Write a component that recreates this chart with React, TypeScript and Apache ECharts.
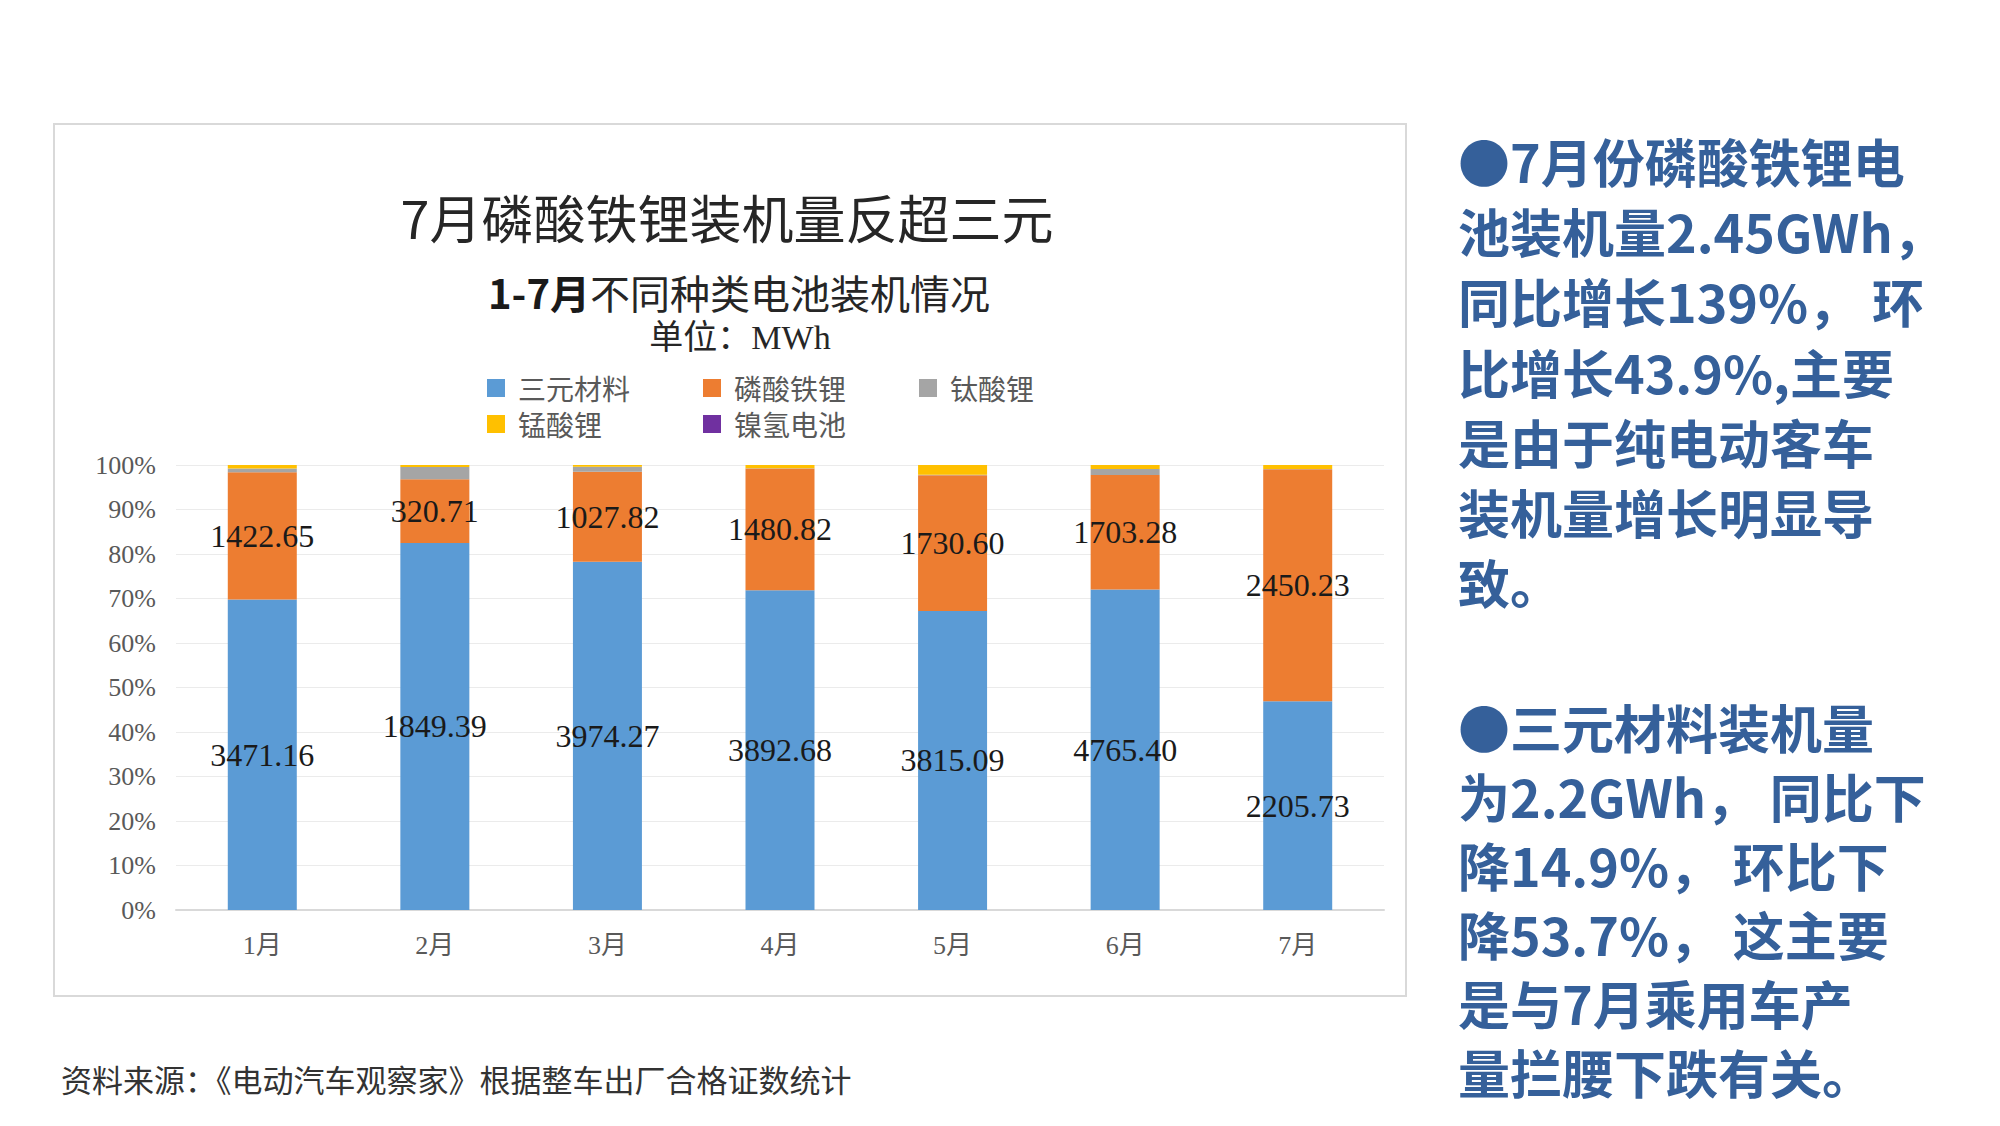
import React, { useEffect, useRef } from "react";
import * as echarts from "echarts";

const categories = ["1月", "2月", "3月", "4月", "5月", "6月", "7月"];
const ternary = [3471.16, 1849.39, 3974.27, 3892.68, 3815.09, 4765.4, 2205.73];
const lfp = [1422.65, 320.71, 1027.82, 1480.82, 1730.6, 1703.28, 2450.23];
const lto = [42, 62, 58, 2, 5, 89, 2];
const lmo = [38, 10, 20, 40, 125, 60, 42];
const nimh = [0, 0, 0, 0, 0, 0, 0];
const yTicks = [0, 10, 20, 30, 40, 50, 60, 70, 80, 90, 100];

const seriesNames = ["三元材料", "磷酸铁锂", "钛酸锂", "锰酸锂", "镍氢电池"];
const seriesColors = ["#5B9BD5", "#ED7D31", "#A5A5A5", "#FFC000", "#7030A0"];
const seriesValues = [ternary, lfp, lto, lmo, nimh];

const titleText = "7月磷酸铁锂装机量反超三元";
const subtitleBold = "1-7月";
const subtitleRest = "不同种类电池装机情况";
const unitText = "单位：MWh";
const sourceText = "资料来源：《电动汽车观察家》根据整车出厂合格证数统计";
const note1 = "●7月份磷酸铁锂电\n池装机量2.45GWh，\n同比增长139%， 环\n比增长43.9%,主要\n是由于纯电动客车\n装机量增长明显导\n致。";
const note2 = "●三元材料装机量\n为2.2GWh， 同比下\n降14.9%， 环比下\n降53.7%， 这主要\n是与7月乘用车产\n量拦腰下跌有关。";

const CJK = '"Noto Sans CJK SC", "Noto Sans", sans-serif';
const SERIF = '"Liberation Serif", "Noto Sans CJK SC", serif';

export default function App() {
  const ref = useRef<HTMLDivElement>(null);

  useEffect(() => {
    if (!ref.current) return;
    const chart = echarts.init(ref.current, null, { renderer: "svg" });
    const totals = categories.map((_, i) =>
      seriesValues.reduce((s, arr) => s + arr[i], 0)
    );

    const series = seriesNames.map((name, si) => ({
      name,
      type: "bar",
      stack: "total",
      barWidth: 69,
      itemStyle: { color: seriesColors[si] },
      data: seriesValues[si].map((v, i) => ({
        value: (v / totals[i]) * 100,
        raw: v,
      })),
      label:
        si < 2
          ? {
              show: true,
              position: "inside",
              color: "#1a1a1a",
              fontFamily: SERIF,
              fontSize: 32,
              formatter: (p: any) => p.data.raw.toFixed(2),
            }
          : { show: false },
    }));

    const legendText = {
      fontFamily: CJK,
      fontSize: 28,
      lineHeight: 30,
      color: "#595959",
      padding: [0, 0, 0, 8],
    };

    chart.setOption({
      animation: false,
      backgroundColor: "#ffffff",
      legend: [
        {
          data: seriesNames.slice(0, 3),
          left: 487,
          top: 373,
          padding: 0,
          itemWidth: 18,
          itemHeight: 18,
          itemGap: 73,
          icon: "rect",
          textStyle: legendText,
        },
        {
          data: seriesNames.slice(3),
          left: 487,
          top: 409,
          padding: 0,
          itemWidth: 18,
          itemHeight: 18,
          itemGap: 101,
          icon: "rect",
          textStyle: legendText,
        },
      ],
      grid: { left: 176, right: 616, top: 465, bottom: 216, containLabel: false },
      xAxis: {
        type: "category",
        data: categories,
        axisLine: { lineStyle: { color: "#d9d9d9", width: 2 } },
        axisTick: { show: false },
        axisLabel: {
          fontFamily: SERIF,
          fontSize: 26,
          color: "#595959",
          margin: 22,
        },
      },
      yAxis: {
        type: "value",
        min: yTicks[0],
        max: yTicks[yTicks.length - 1],
        interval: 10,
        axisLine: { show: false },
        axisTick: { show: false },
        splitLine: { lineStyle: { color: "#ebebeb", width: 1 } },
        axisLabel: {
          formatter: "{value}%",
          fontFamily: SERIF,
          fontSize: 26,
          color: "#595959",
          margin: 20,
        },
      },
      series,
      graphic: [
        {
          type: "rect",
          shape: { x: 54, y: 124, width: 1352, height: 872 },
          style: { fill: "none", stroke: "#d9d9d9", lineWidth: 2 },
          z: -1,
        },
        {
          type: "text",
          x: 727,
          y: 216,
          style: {
            text: titleText,
            font: `400 52px ${CJK}`,
            fill: "#262626",
            textAlign: "center",
            textVerticalAlign: "middle",
          },
        },
        {
          type: "text",
          x: 739,
          y: 292,
          style: {
            text: `{b|${subtitleBold}}{n|${subtitleRest}}`,
            textAlign: "center",
            textVerticalAlign: "middle",
            rich: {
              b: { font: `700 40px ${CJK}`, fill: "#1a1a1a" },
              n: { font: `400 40px ${CJK}`, fill: "#262626" },
            },
          },
        },
        {
          type: "text",
          x: 740,
          y: 337,
          style: {
            text: unitText,
            font: `400 34px ${SERIF}`,
            fill: "#262626",
            textAlign: "center",
            textVerticalAlign: "middle",
          },
        },
        {
          type: "text",
          x: 61,
          y: 1078,
          style: {
            text: sourceText,
            font: `400 31px ${CJK}`,
            fill: "#333333",
            textAlign: "left",
            textVerticalAlign: "middle",
          },
        },
        {
          type: "text",
          x: 1458,
          y: 125,
          style: {
            text: note1,
            font: `700 52px ${CJK}`,
            lineHeight: 70.3,
            fill: "#35609A",
            textAlign: "left",
            textVerticalAlign: "top",
          },
        },
        {
          type: "text",
          x: 1458,
          y: 692,
          style: {
            text: note2,
            font: `700 52px ${CJK}`,
            lineHeight: 69,
            fill: "#35609A",
            textAlign: "left",
            textVerticalAlign: "top",
          },
        },
      ],
    });

    return () => chart.dispose();
  }, []);

  return (
    <div
      ref={ref}
      style={{ position: "fixed", left: 0, top: 0, width: 2000, height: 1126 }}
    />
  );
}
